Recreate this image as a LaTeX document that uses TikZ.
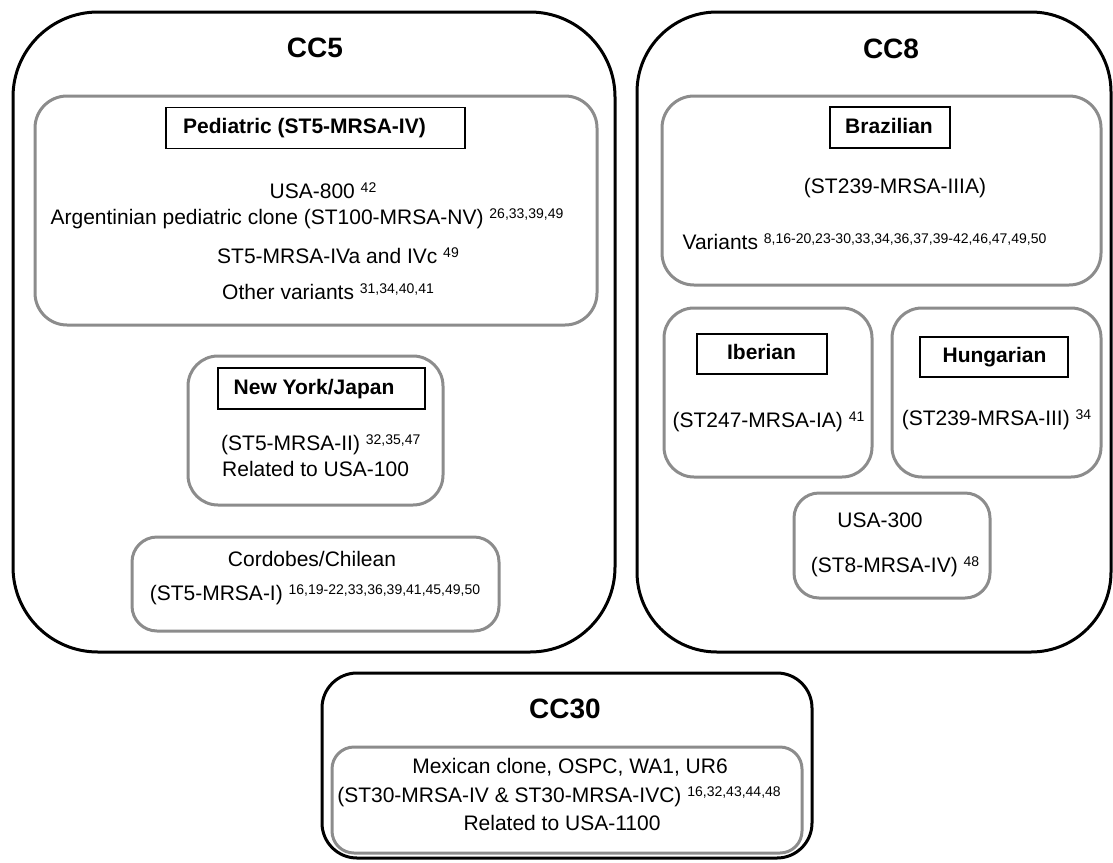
\documentclass[tikz,border=0pt]{standalone}
\usepackage{fontspec}
\setmainfont{Liberation Sans}
\definecolor{boxgray}{RGB}{140,140,140}
\newcommand{\supref}[1]{\raisebox{6.5pt}{\fontsize{14}{14}\selectfont #1}}
\begin{document}
\begin{tikzpicture}[x=1pt,y=-1pt,
  outerbox/.style={draw=black, line width=3pt, inner sep=0pt},
  graybox/.style={draw=boxgray, line width=3pt, rounded corners=30pt, inner sep=0pt},
  labelbox/.style={draw=black, line width=1.3pt, inner sep=0pt},
  txt/.style={inner sep=0pt, font=\fontsize{21}{25}\selectfont, text height=15pt, text depth=4pt},
  boldtxt/.style={inner sep=0pt, font=\fontsize{21}{25}\selectfont\bfseries, text height=15pt, text depth=4pt},
  cctitle/.style={inner sep=0pt, font=\fontsize{28}{32}\selectfont\bfseries, text height=20pt, text depth=0pt},
]
\useasboundingbox (0,0) rectangle (1113,862);

% outer clonal complex boxes
\node[outerbox, rounded corners=85pt, minimum width=602pt, minimum height=640pt] (cc5) at (314,332) {};
\node[outerbox, rounded corners=80pt, minimum width=474pt, minimum height=640pt] (cc8) at (874,332) {};
\node[outerbox, rounded corners=35pt, minimum width=490pt, minimum height=185pt] (cc30) at (567,765.5) {};

\node[cctitle] (t5) at (315,47) {CC5};
\node[cctitle] (t8) at (891,48) {CC8};
\node[cctitle] (t30) at (565,708) {CC30};

% CC5 : Pediatric
\node[graybox, rounded corners=32pt, minimum width=562pt, minimum height=229pt] (ped) at (316,210.5) {};
\node[labelbox, minimum width=299pt, minimum height=41pt] (pedlab) at (315.5,128) {};
\node[boldtxt] (pedtxt) at (304.5,128) {Pediatric (ST5-MRSA-IV)};
\node[txt] (usa800) at (323,193) {USA-800 \supref{42}};
\node[txt] (arg) at (307,219) {Argentinian pediatric clone (ST100-MRSA-NV) \supref{26,33,39,49}};
\node[txt] (ivac) at (338,258) {ST5-MRSA-IVa and IVc \supref{49}};
\node[txt] (other) at (328,294) {Other variants \supref{31,34,40,41}};

% CC5 : New York/Japan
\node[graybox, minimum width=255pt, minimum height=149pt] (ny) at (315.5,430.5) {};
\node[labelbox, minimum width=207pt, minimum height=41pt] (nylab) at (321.5,388.5) {};
\node[boldtxt] (nytxt) at (314,389) {New York/Japan};
\node[txt, anchor=west] (ny1) at (221,445) {(ST5-MRSA-II) \supref{32,35,47}};
\node[txt, anchor=west] (ny2) at (222,471) {Related to USA-100};

% CC5 : Cordobes/Chilean
\node[graybox, rounded corners=25pt, minimum width=367pt, minimum height=94pt] (cord) at (315.5,584) {};
\node[txt] (cord1) at (312,561) {Cordobes/Chilean};
\node[txt] (cord2) at (315,595) {(ST5-MRSA-I) \supref{16,19-22,33,36,39,41,45,49,50}};

% CC8 : Brazilian
\node[graybox, rounded corners=32pt, minimum width=439pt, minimum height=189pt] (br) at (881.5,190.5) {};
\node[labelbox, minimum width=120pt, minimum height=41pt] (brlab) at (890,127.5) {};
\node[boldtxt] (brtxt) at (889,128) {Brazilian};
\node[txt] (br1) at (895,188) {(ST239-MRSA-IIIA)};
\node[txt] (br2) at (864.5,244) {Variants \supref{8,16-20,23-30,33,34,36,37,39-42,46,47,49,50}};

% CC8 : Iberian
\node[graybox, minimum width=208pt, minimum height=169pt] (ib) at (768,392.5) {};
\node[labelbox, minimum width=130pt, minimum height=40pt] (iblab) at (762,354) {};
\node[boldtxt] (ibtxt) at (761.5,354) {Iberian};
\node[txt] (ib1) at (768.5,422) {(ST247-MRSA-IA) \supref{41}};

% CC8 : Hungarian
\node[graybox, minimum width=209pt, minimum height=169pt] (hu) at (996.5,392.5) {};
\node[labelbox, minimum width=148pt, minimum height=40pt] (hulab) at (994,357) {};
\node[boldtxt] (hutxt) at (994.5,357) {Hungarian};
\node[txt] (hu1) at (996.5,420) {(ST239-MRSA-III) \supref{34}};

% CC8 : USA-300
\node[graybox, rounded corners=25pt, minimum width=196pt, minimum height=105pt] (u300) at (892,545.5) {};
\node[txt] (u300a) at (880,522) {USA-300};
\node[txt] (u300b) at (895,567) {(ST8-MRSA-IV) \supref{48}};

% CC30 : Mexican clone
\node[graybox, rounded corners=22pt, minimum width=470pt, minimum height=106pt] (mex) at (567,800) {};
\node[txt] (m1) at (570,768) {Mexican clone, OSPC, WA1, UR6};
\node[txt] (m2) at (559,797) {(ST30-MRSA-IV \& ST30-MRSA-IVC) \supref{16,32,43,44,48}};
\node[txt] (m3) at (562,825) {Related to USA-1100};
\end{tikzpicture}
\end{document}
